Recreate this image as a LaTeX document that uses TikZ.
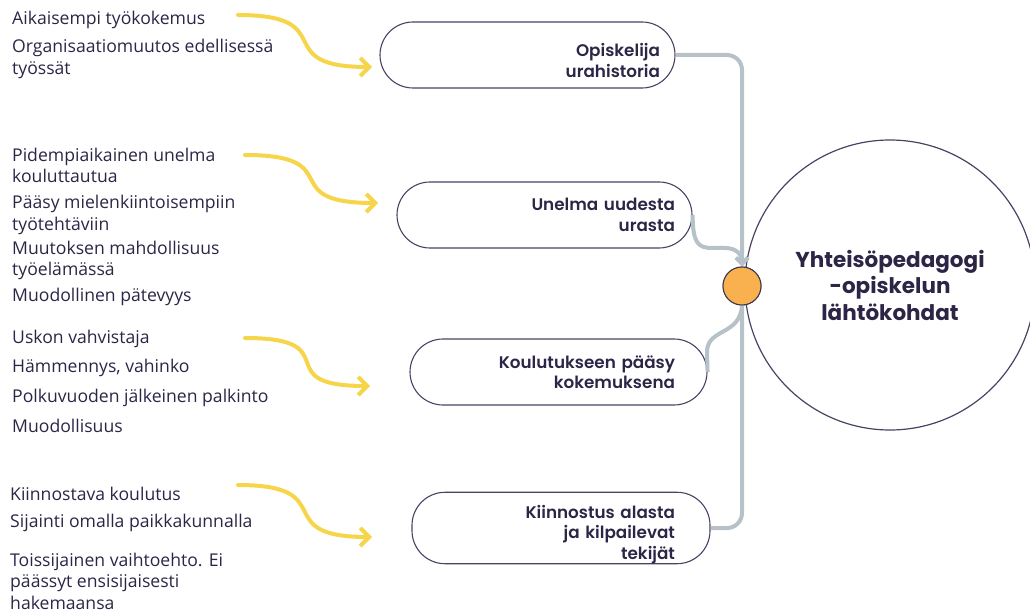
\documentclass[tikz,border=0pt]{standalone}
\usepackage{fontspec}
\setmainfont{Open Sans}
\newfontfamily\titlefont{Poppins}[UprightFont=* SemiBold, BoldFont=* Bold]
\usetikzlibrary{arrows.meta}
\definecolor{ink}{HTML}{2D2546}
\definecolor{edge}{HTML}{4A4262}
\definecolor{gry}{HTML}{B7C2C8}
\definecolor{yel}{HTML}{F6D54A}
\definecolor{org}{HTML}{F9B04E}
\begin{document}
\begin{tikzpicture}[x=1pt,y=-1pt,
  item/.style={anchor=west, align=left, text=ink, inner sep=0pt, font=\fontsize{17.6}{21.5}\selectfont},
  pill/.style={draw=edge, line width=1.1pt, rounded corners=33pt, minimum height=66pt, align=right, text=ink, inner ysep=0pt, font=\titlefont\fontsize{16.8}{20.5}\selectfont},
  gline/.style={draw=gry, line width=4pt},
  gtip/.style={-{Straight Barb[length=6pt,width=12pt]}},
  yarr/.style={draw=yel, line width=4pt, line cap=round, -{Straight Barb[length=9pt,width=18pt]}}
]
\useasboundingbox (0,0) rectangle (1030,612);
\clip (0,0) rectangle (1030,612);

% big circle
\node[draw=edge, line width=1.2pt, circle, minimum size=290pt, align=center, text=ink,
      font=\titlefont\bfseries\fontsize{21.5}{26.5}\selectfont] (big) at (890,285)
      {Yhteisöpedagogi\\-opiskelun\\lähtökohdat};

% pills
\node[pill, minimum width=295pt, text width=265pt, inner xsep=15pt] (b1) at (527.5,55) {\rule{0pt}{24pt}Opiskelija\\urahistoria};
\node[pill, minimum width=295pt, text width=261pt, inner xsep=17pt] (b2) at (544.5,215) {Unelma uudesta\\urasta};
\node[pill, minimum width=297pt, text width=233pt, inner xsep=32pt] (b3) at (558.5,372) {Koulutukseen pääsy\\kokemuksena};
\node[pill, minimum width=298pt, text width=228pt, inner xsep=35pt] (b4) at (561,528) {\rule{0pt}{26pt}Kiinnostus alasta\\ja kilpailevat\\tekijät};

% orange hub
\node[circle, fill=org, draw=edge!80!black, line width=1pt, minimum size=38pt, inner sep=0pt] (o) at (742,286) {};

% gray connectors
\draw[gline, gtip, rounded corners=15pt] (b1.east) -| (o.north);
\draw[gline, rounded corners=15pt] (b4.east) -| (o.south);
\draw[gline, gtip] (b2.east) .. controls (693,242) and (697,248) .. (712,248) -- (725,248) .. controls (737,248) and (742,255) .. (o.north);
\draw[gline] (b3.east) -- (707,352) .. controls (707,328) and (740,336) .. (o.south);
\node[circle, fill=org, draw=edge!80!black, line width=1pt, minimum size=38pt, inner sep=0pt] at (o) {};

% yellow arrows
\coordinate (y1s) at (238,15);  \coordinate (y1e) at (372,67);
\coordinate (y2s) at (245,155); \coordinate (y2e) at (378,203);
\coordinate (y3s) at (245,338); \coordinate (y3e) at (370,386);
\coordinate (y4s) at (238,485); \coordinate (y4e) at (372,537);
\draw[yarr] (y1s) .. controls +(105,0) and +(-105,0) .. (y1e);
\draw[yarr] (y2s) .. controls +(105,0) and +(-105,0) .. (y2e);
\draw[yarr] (y3s) .. controls +(105,0) and +(-105,0) .. (y3e);
\draw[yarr] (y4s) .. controls +(105,0) and +(-105,0) .. (y4e);

% left texts
\node[item] (t11) at (12,20) {Aikaisempi työkokemus};
\node[item] (t12) at (12,59) {Organisaatiomuutos edellisessä\\työssät};
\node[item] (t21) at (12,165.5) {Pidempiaikainen unelma\\kouluttautua};
\node[item] (t22) at (12,215) {Pääsy mielenkiintoisempiin\\työtehtäviin};
\node[item] (t23) at (12,260.5) {Muutoksen mahdollisuus\\työelämässä};
\node[item] (t24) at (12,297) {Muodollinen pätevyys};
\node[item] (t31) at (12,339) {Uskon vahvistaja};
\node[item] (t32) at (12,368) {Hämmennys, vahinko};
\node[item] (t33) at (12,398) {Polkuvuoden jälkeinen palkinto};
\node[item] (t34) at (12,426) {Muodollisuus};
\node[item] (t41) at (10,494) {Kiinnostava koulutus};
\node[item] (t42) at (10,523) {Sijainti omalla paikkakunnalla};
\node[item] (t43) at (10,581) {Toissijainen vaihtoehto. Ei\\päässyt ensisijaisesti\\hakemaansa};
\end{tikzpicture}
\end{document}
